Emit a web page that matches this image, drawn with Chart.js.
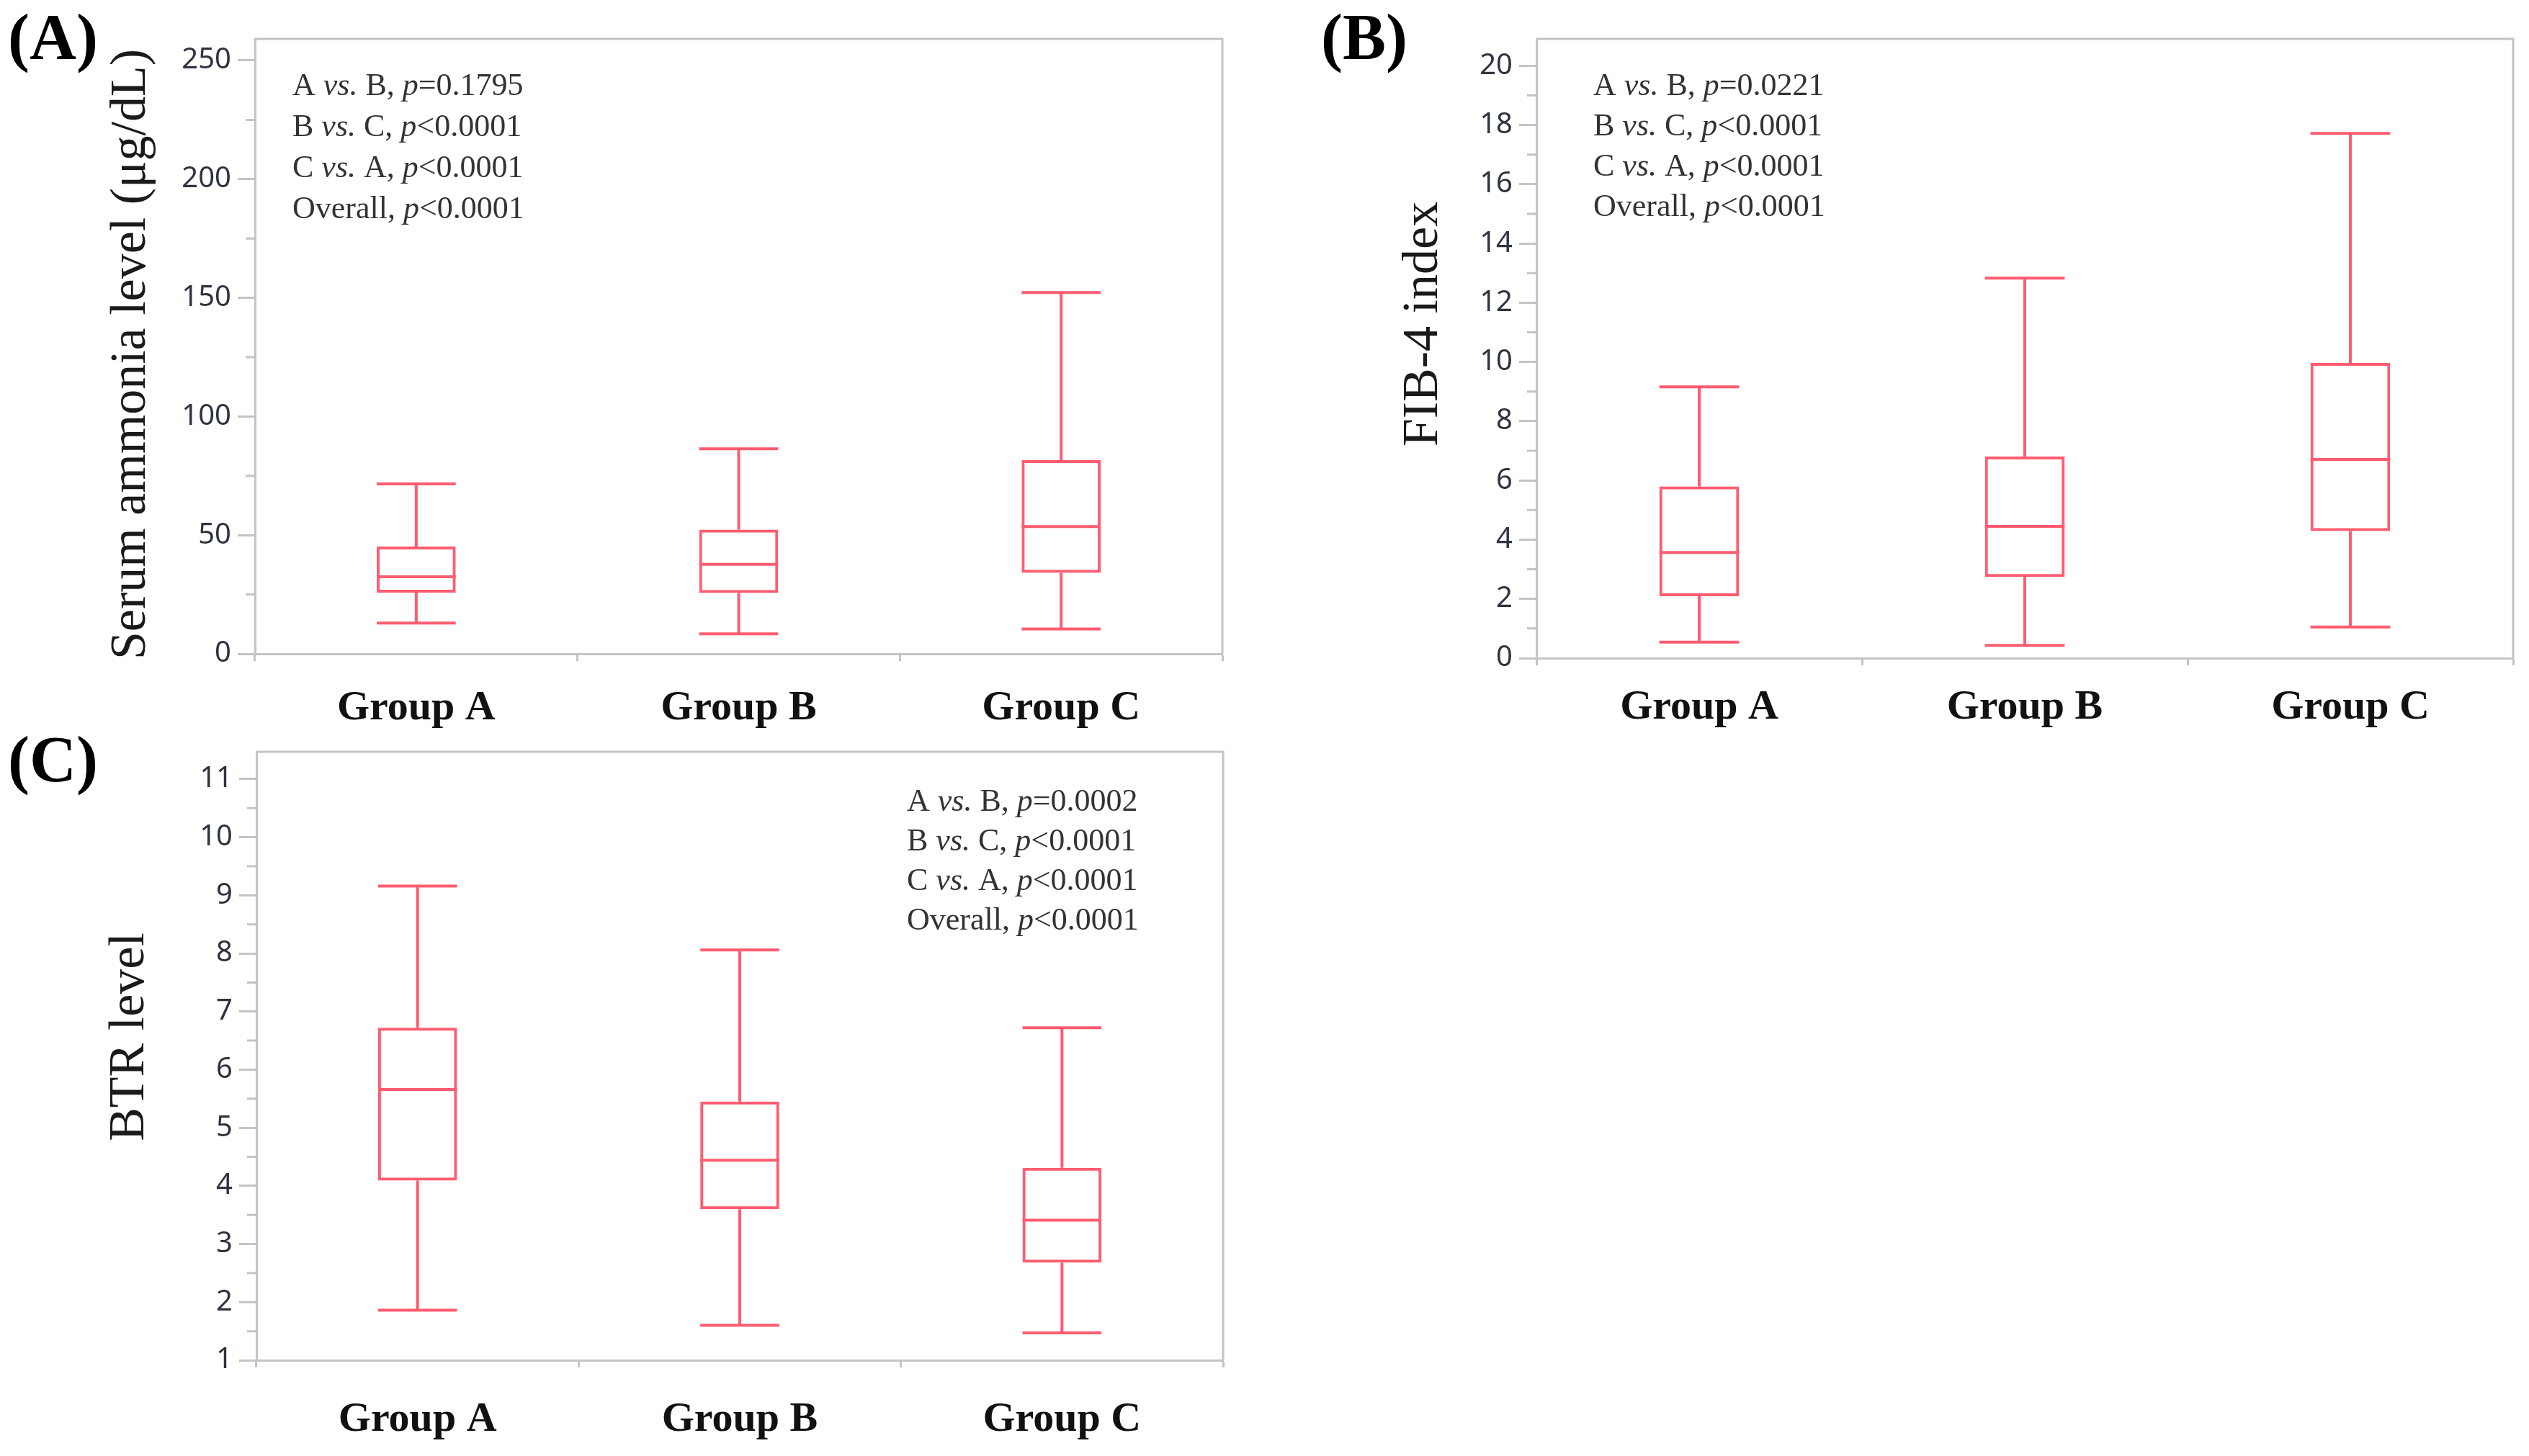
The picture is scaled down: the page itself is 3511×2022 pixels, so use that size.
<!DOCTYPE html>
<html><head><meta charset="utf-8">
<script src="https://cdn.jsdelivr.net/npm/chart.js@4.4.1/dist/chart.umd.min.js"></script>
<style>
html,body{margin:0;padding:0;background:#fff;}
body{width:3511px;height:2022px;position:relative;overflow:hidden;}
canvas{position:absolute;}
</style></head><body>
<canvas id="cA" width="1760" height="1030" style="left:0px;top:0px;width:1760px;height:1030px"></canvas>
<canvas id="cB" width="1731" height="1030" style="left:1780px;top:0px;width:1731px;height:1030px"></canvas>
<canvas id="cC" width="1760" height="1022" style="left:0px;top:1000px;width:1760px;height:1022px"></canvas>
<script>
// ---------- data ----------
const groups = ['Group A', 'Group B', 'Group C'];

// (A) Serum ammonia level (µg/dL)
const ammoniaMin    = [13.0, 8.4, 10.5];
const ammoniaQ1     = [25.8, 25.6, 34.1];
const ammoniaMedian = [32.5, 37.7, 53.6];
const ammoniaQ3     = [45.2, 52.3, 81.6];
const ammoniaMax    = [71.6, 86.4, 152.2];
const ammoniaTicks  = [0, 50, 100, 150, 200, 250];
const ammoniaMinor  = [25, 75, 125, 175, 225];
const ammoniaPairs  = ['A vs. B', 'B vs. C', 'C vs. A', 'Overall'];
const ammoniaP      = ['=0.1795', '<0.0001', '<0.0001', '<0.0001'];

// (B) FIB-4 index
const fib4Min    = [0.54, 0.43, 1.05];
const fib4Q1     = [2.09, 2.74, 4.29];
const fib4Median = [3.57, 4.45, 6.71];
const fib4Q3     = [5.80, 6.81, 9.97];
const fib4Max    = [9.16, 12.83, 17.72];
const fib4Ticks  = [0, 2, 4, 6, 8, 10, 12, 14, 16, 18, 20];
const fib4Minor  = [1, 3, 5, 7, 9, 11, 13, 15, 17, 19];
const fib4Pairs  = ['A vs. B', 'B vs. C', 'C vs. A', 'Overall'];
const fib4P      = ['=0.0221', '<0.0001', '<0.0001', '<0.0001'];

// (C) BTR level
const btrMin    = [1.86, 1.60, 1.47];
const btrQ1     = [4.09, 3.60, 2.68];
const btrMedian = [5.66, 4.44, 3.41];
const btrQ3     = [6.72, 5.45, 4.31];
const btrMax    = [9.16, 8.06, 6.72];
const btrTicks  = [1, 2, 3, 4, 5, 6, 7, 8, 9, 10, 11];
const btrMinor  = [1.5, 2.5, 3.5, 4.5, 5.5, 6.5, 7.5, 8.5, 9.5, 10.5];
const btrPairs  = ['A vs. B', 'B vs. C', 'C vs. A', 'Overall'];
const btrP      = ['=0.0002', '<0.0001', '<0.0001', '<0.0001'];

// ---------- styles ----------
const RED = 'rgb(255,92,112)';
const GRAY = '#c4c4c4';
const SERIF = '"Liberation Serif", "Times New Roman", serif';
const SANS = '"Noto Sans", "Liberation Sans", sans-serif';

const panels = {
  cA: {
    min: ammoniaMin, q1: ammoniaQ1, med: ammoniaMedian, q3: ammoniaQ3, max: ammoniaMax,
    ticks: ammoniaTicks, minor: ammoniaMinor, yMin: 0, yMax: 259.1,
    pairs: ammoniaPairs, p: ammoniaP, statX: 52, statY: 78, statLH: 57,
    title: 'Serum ammonia level (\u03bcg/dL)', titleX: 201, titleY: 492,
    letter: '(A)', letterX: 11, letterY: 82,
    padding: {top: 54, right: 63, left: 0, bottom: 0}, yW: 354, xH: 122, xPad: 31
  },
  cB: {
    min: fib4Min, q1: fib4Q1, med: fib4Median, q3: fib4Q3, max: fib4Max,
    ticks: fib4Ticks, minor: fib4Minor, yMin: 0, yMax: 20.91,
    pairs: fib4Pairs, p: fib4P, statX: 79, statY: 78, statLH: 56,
    title: 'FIB-4 index', titleX: 215, titleY: 450,
    letter: '(B)', letterX: 54, letterY: 82,
    padding: {top: 54, right: 22, left: 0, bottom: 0}, yW: 353, xH: 116, xPad: 24
  },
  cC: {
    min: btrMin, q1: btrQ1, med: btrMedian, q3: btrQ3, max: btrMax,
    ticks: btrTicks, minor: btrMinor, yMin: 1, yMax: 11.47,
    pairs: btrPairs, p: btrP, statX: 903, statY: 82, statLH: 55,
    title: 'BTR level', titleX: 199, titleY: 440,
    letter: '(C)', letterX: 11, letterY: 85,
    padding: {top: 44, right: 62, left: 0, bottom: 0}, yW: 356, xH: 133, xPad: 38
  }
};

function drawStatLine(ctx, x, y, pair, p) {
  const base = '44px ' + SERIF;
  const segs = [];
  const m = pair.match(/^(\S+) vs\. (\S+)$/);
  if (m) {
    segs.push([m[1] + ' ', false], ['vs.', true], [' ' + m[2] + ', ', false]);
  } else {
    segs.push([pair + ', ', false]);
  }
  segs.push(['p', true], [p, false]);
  let cx = x;
  for (const [t, it] of segs) {
    ctx.font = (it ? 'italic ' : '') + base;
    ctx.fillText(t, cx, y);
    cx += ctx.measureText(t).width;
  }
}

const extras = {
  id: 'boxExtras',
  afterDatasetsDraw(chart) {
    const cfg = panels[chart.canvas.id];
    const {ctx, scales: {x, y}} = chart;
    const meta = chart.getDatasetMeta(0);
    ctx.save();
    ctx.strokeStyle = RED;
    ctx.lineWidth = 4;
    ctx.lineCap = 'butt';
    groups.forEach((g, i) => {
      const bar = meta.data[i];
      const cx = x.getPixelForValue(i);
      const half = bar.width / 2;
      const pMin = y.getPixelForValue(cfg.min[i]);
      const pQ1 = y.getPixelForValue(cfg.q1[i]);
      const pMed = y.getPixelForValue(cfg.med[i]);
      const pQ3 = y.getPixelForValue(cfg.q3[i]);
      const pMax = y.getPixelForValue(cfg.max[i]);
      ctx.beginPath();
      ctx.moveTo(cx, pQ3); ctx.lineTo(cx, pMax);
      ctx.moveTo(cx, pQ1); ctx.lineTo(cx, pMin);
      ctx.moveTo(cx - half, pMax); ctx.lineTo(cx + half, pMax);
      ctx.moveTo(cx - half, pMin); ctx.lineTo(cx + half, pMin);
      ctx.moveTo(cx - half, pMed); ctx.lineTo(cx + half, pMed);
      ctx.stroke();
    });
    ctx.restore();
  },
  afterDraw(chart) {
    const cfg = panels[chart.canvas.id];
    const {ctx, chartArea: ca, scales: {y}} = chart;
    ctx.save();
    // frame top & right
    ctx.strokeStyle = GRAY;
    ctx.lineWidth = 3;
    ctx.beginPath();
    ctx.moveTo(ca.left, ca.top); ctx.lineTo(ca.right, ca.top); ctx.lineTo(ca.right, ca.bottom);
    ctx.stroke();
    // minor ticks
    ctx.beginPath();
    cfg.minor.forEach(v => {
      const py = y.getPixelForValue(v);
      ctx.moveTo(ca.left - 13, py); ctx.lineTo(ca.left, py);
    });
    ctx.stroke();
    // stats text
    ctx.fillStyle = '#333';
    ctx.textBaseline = 'alphabetic';
    ctx.textAlign = 'left';
    cfg.pairs.forEach((pair, i) => {
      drawStatLine(ctx, ca.left + cfg.statX, ca.top + cfg.statY + i * cfg.statLH, pair, cfg.p[i]);
    });
    // y-axis title
    ctx.save();
    ctx.fillStyle = '#1a1a1a';
    ctx.font = '70px ' + SERIF;
    ctx.translate(cfg.titleX, cfg.titleY);
    ctx.rotate(-Math.PI / 2);
    ctx.textAlign = 'center';
    ctx.textBaseline = 'alphabetic';
    ctx.fillText(cfg.title, 0, 0);
    ctx.restore();
    // panel letter
    ctx.fillStyle = '#000';
    ctx.font = 'bold 90px ' + SERIF;
    ctx.textAlign = 'left';
    ctx.textBaseline = 'alphabetic';
    ctx.fillText(cfg.letter, cfg.letterX, cfg.letterY);
    ctx.restore();
  }
};

function makeChart(id) {
  const cfg = panels[id];
  return new Chart(document.getElementById(id), {
    type: 'bar',
    data: {
      labels: groups,
      datasets: [{
        data: cfg.q1.map((v, i) => [v, cfg.q3[i]]),
        backgroundColor: 'rgba(0,0,0,0)',
        borderColor: RED,
        borderWidth: 4,
        borderSkipped: false,
        barPercentage: 0.245,
        categoryPercentage: 1.0
      }]
    },
    options: {
      responsive: false,
      animation: false,
      devicePixelRatio: 1,
      layout: { padding: cfg.padding },
      plugins: { legend: { display: false }, tooltip: { enabled: false }, title: { display: false } },
      scales: {
        x: {
          type: 'category',
          offset: true,
          grid: { offset: true, drawOnChartArea: false, tickLength: 10, tickWidth: 3, tickColor: GRAY, color: GRAY },
          border: { display: true, color: GRAY, width: 3 },
          ticks: { font: { family: SERIF, size: 58, weight: 'bold' }, color: '#111', padding: cfg.xPad, maxRotation: 0, minRotation: 0 },
          afterFit: s => { s.height = cfg.xH; }
        },
        y: {
          type: 'linear',
          min: cfg.yMin,
          max: cfg.yMax,
          grid: { drawOnChartArea: false, tickLength: 24, tickWidth: 3, tickColor: GRAY, color: GRAY },
          border: { display: true, color: GRAY, width: 3 },
          ticks: { font: { family: SANS, size: 40 }, color: '#2e3340', padding: 9, includeBounds: false },
          afterBuildTicks: s => { s.ticks = cfg.ticks.map(v => ({ value: v })); },
          afterFit: s => { s.width = cfg.yW; }
        }
      }
    },
    plugins: [extras]
  });
}

makeChart('cA');
makeChart('cB');
makeChart('cC');
</script>
</body></html>
